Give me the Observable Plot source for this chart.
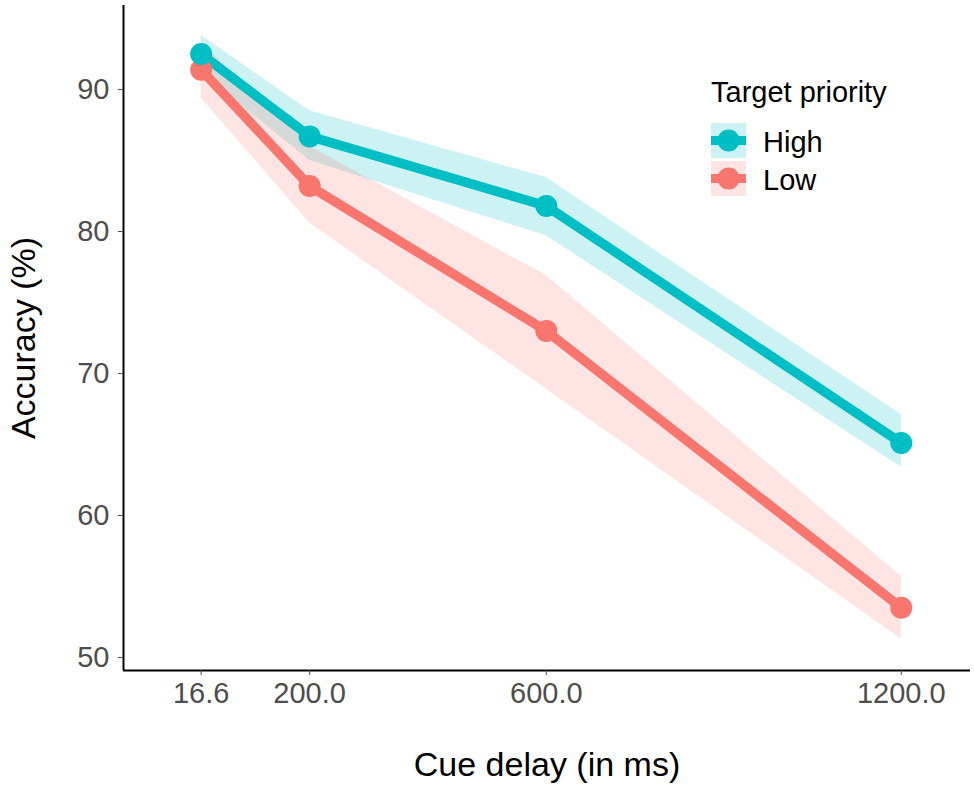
<!DOCTYPE html>
<html>
<head>
<meta charset="utf-8">
<script src="https://cdn.jsdelivr.net/npm/d3@7"></script>
<script src="https://cdn.jsdelivr.net/npm/@observablehq/plot@0.6"></script>
<style>
  html, body { margin: 0; padding: 0; background: #fff; }
  #wrap { position: relative; width: 974px; height: 791px; font-family: "Liberation Sans", Arial, sans-serif; }
  #wrap svg.plot { position: absolute; left: 0; top: 0; }
  g[aria-label="x-axis label"] text, g[aria-label="y-axis label"] text { font-size: 34px; fill: #000; }
  #legend { position: absolute; left: 0; top: 0; }
</style>
</head>
<body>
<div id="wrap"></div>
<script>
// ---- data ----
const delays = [16.6, 200, 600, 1200];
const delayTicks = [16.6, 200, 600, 1200];
const accuracyTicks = [50, 60, 70, 80, 90];
const priorities = ["High", "Low"];
const colors = ["#00BFC4", "#F8766D"];

const highMean  = [92.5, 86.7, 81.8, 65.1];
const highLower = [91.2, 85.0, 79.7, 63.4];
const highUpper = [93.8, 88.5, 83.8, 67.1];

const lowMean   = [91.4, 83.2, 73.0, 53.5];
const lowLower  = [89.4, 80.6, 68.9, 51.3];
const lowUpper  = [93.3, 86.0, 76.9, 55.7];

const xDomain = [-114.6, 1317];
const yDomain = [49.08, 95.92];

// ---- tidy table ----
const series = {
  High: {mean: highMean, lower: highLower, upper: highUpper},
  Low:  {mean: lowMean,  lower: lowLower,  upper: lowUpper}
};
const rows = [];
for (const p of priorities) {
  delays.forEach((d, i) => rows.push({
    priority: p, delay: d,
    mean: series[p].mean[i], lower: series[p].lower[i], upper: series[p].upper[i]
  }));
}
const drawOrder = ["Low", "High"];
const colorScale = {domain: priorities, range: colors};

const plot = Plot.plot({
  width: 974,
  height: 791,
  marginLeft: 123,
  marginRight: 4,
  marginTop: 5,
  marginBottom: 121,
  style: {fontFamily: '"Liberation Sans", Arial, sans-serif', background: "transparent"},
  x: {domain: xDomain},
  y: {domain: yDomain},
  color: colorScale,
  marks: [
    Plot.areaY(rows, {x: "delay", y1: "lower", y2: "upper", z: "priority", fill: "priority", fillOpacity: 0.2, curve: "linear"}),
    ...drawOrder.map(p => Plot.line(rows.filter(r => r.priority === p), {x: "delay", y: "mean", stroke: "priority", strokeWidth: 9.5, strokeLinejoin: "round", strokeLinecap: "butt"})),
    ...drawOrder.map(p => Plot.dot(rows.filter(r => r.priority === p), {x: "delay", y: "mean", fill: "priority", r: 11, stroke: null})),
    Plot.ruleX([xDomain[0]], {stroke: "#000", strokeWidth: 2}),
    Plot.ruleY([yDomain[0]], {stroke: "#000", strokeWidth: 2}),
    Plot.axisX({
      ticks: delayTicks, tickFormat: d => d.toFixed(1), tickSize: 5, tickPadding: 7,
      fontSize: 29, color: "#4d4d4d",
      label: "Cue delay (in ms)", labelAnchor: "center", labelOffset: 105, labelArrow: "none"
    }),
    Plot.axisY({
      ticks: accuracyTicks, tickSize: 5, tickPadding: 9,
      fontSize: 29, color: "#4d4d4d",
      label: "Accuracy (%)", labelAnchor: "center", labelOffset: 113, labelArrow: "none"
    })
  ]
});
plot.classList.add("plot");
document.getElementById("wrap").appendChild(plot);

// ---- legend ----
const ns = "http://www.w3.org/2000/svg";
const leg = document.createElementNS(ns, "svg");
leg.setAttribute("id", "legend");
leg.setAttribute("width", 974);
leg.setAttribute("height", 791);
leg.style.fontFamily = '"Liberation Sans", Arial, sans-serif';
let html = `<text x="711" y="102" font-size="29" fill="#000">Target priority</text>`;
priorities.forEach((p, i) => {
  const top = 123 + i * 38;
  const c = colors[i];
  const cy = top + 17.5;
  html += `<rect x="711" y="${top}" width="35" height="35" fill="${c}" fill-opacity="0.2"/>`;
  html += `<line x1="711" x2="746" y1="${cy}" y2="${cy}" stroke="${c}" stroke-width="9"/>`;
  html += `<circle cx="728.5" cy="${cy}" r="11" fill="${c}"/>`;
  html += `<text x="763" y="${cy + 11}" font-size="29" fill="#000">${p}</text>`;
});
leg.innerHTML = html;
document.getElementById("wrap").appendChild(leg);
</script>
</body>
</html>
